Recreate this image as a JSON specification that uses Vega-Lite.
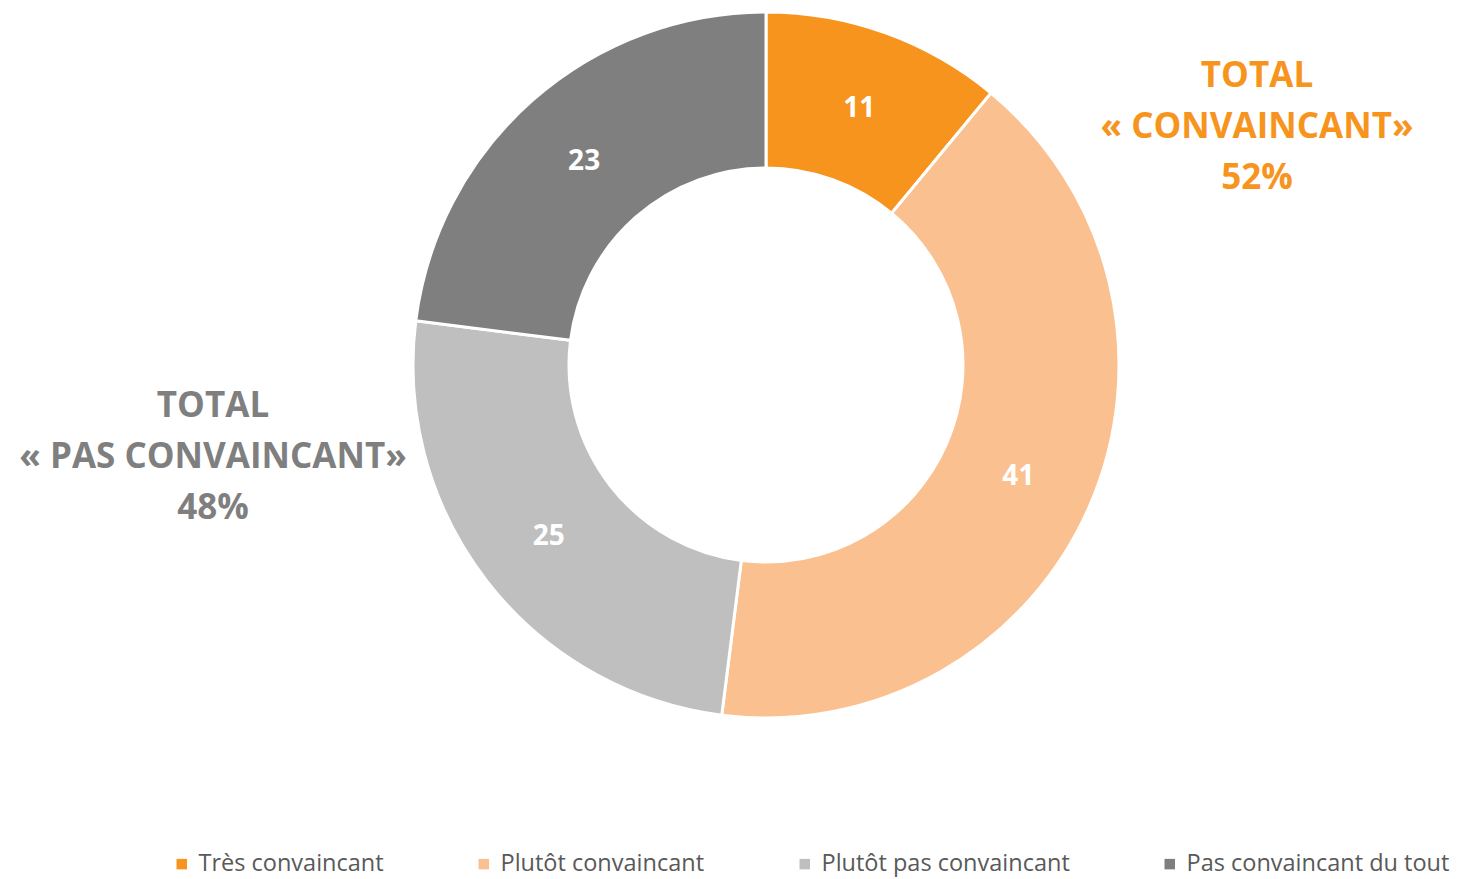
{
  "$schema": "https://vega.github.io/schema/vega-lite/v6.json",
  "autosize": {"type": "none"},
  "width": 1406,
  "height": 730,
  "padding": {"left": 63, "top": 0, "right": 0, "bottom": 149},
  "background": "white",
  "config": {"view": {"stroke": null}, "font": "Open Sans"},
  "datasets": {
    "slices": [
      {"categorie": "Très convaincant", "valeur": 11, "ordre": 1},
      {"categorie": "Plutôt convaincant", "valeur": 41, "ordre": 2},
      {"categorie": "Plutôt pas convaincant", "valeur": 25, "ordre": 3},
      {"categorie": "Pas convaincant du tout", "valeur": 23, "ordre": 4}
    ],
    "totals": [
      {"groupe": "convaincant", "lignes": ["TOTAL", "« CONVAINCANT»", "52%"]},
      {"groupe": "pas convaincant", "lignes": ["TOTAL", "« PAS CONVAINCANT»", "48%"]}
    ]
  },
  "layer": [
    {
      "data": {"name": "slices"},
      "mark": {"type": "arc", "outerRadius": 353, "innerRadius": 197, "stroke": "white", "strokeWidth": 3},
      "encoding": {
        "theta": {"field": "valeur", "type": "quantitative", "stack": true},
        "order": {"field": "ordre", "type": "quantitative"},
        "color": {
          "field": "categorie",
          "type": "nominal",
          "sort": ["Très convaincant", "Plutôt convaincant", "Plutôt pas convaincant", "Pas convaincant du tout"],
          "scale": {
            "domain": ["Très convaincant", "Plutôt convaincant", "Plutôt pas convaincant", "Pas convaincant du tout"],
            "range": ["#F7941D", "#FAC090", "#BFBFBF", "#7F7F7F"]
          },
          "legend": {
            "title": null,
            "orient": "none",
            "direction": "horizontal",
            "legendX": 107,
            "legendY": 852,
            "symbolType": "square",
            "symbolSize": 110,
            "symbolStrokeWidth": 0,
            "labelFont": "Open Sans",
            "labelFontSize": 23.5,
            "labelColor": "#595959",
            "labelLimit": 400,
            "labelOffset": 5,
            "columnPadding": 88
          }
        }
      }
    },
    {
      "data": {"name": "slices"},
      "mark": {"type": "text", "radius": 275, "dy": 3, "font": "Open Sans", "fontWeight": "bold", "fontSize": 28, "color": "white", "baseline": "middle", "align": "center"},
      "encoding": {
        "theta": {"field": "valeur", "type": "quantitative", "stack": true},
        "order": {"field": "ordre", "type": "quantitative"},
        "text": {"field": "valeur", "type": "quantitative"}
      }
    },
    {
      "data": {"name": "totals"},
      "transform": [{"filter": "datum.groupe === 'convaincant'"}],
      "mark": {"type": "text", "font": "Open Sans", "fontWeight": "bold", "fontSize": 35, "color": "#F7941D", "align": "center", "baseline": "middle", "lineHeight": 51, "dx": 491, "dy": -289},
      "encoding": {"text": {"field": "lignes"}}
    },
    {
      "data": {"name": "totals"},
      "transform": [{"filter": "datum.groupe === 'pas convaincant'"}],
      "mark": {"type": "text", "font": "Open Sans", "fontWeight": "bold", "fontSize": 35, "color": "#7F7F7F", "align": "center", "baseline": "middle", "lineHeight": 51, "dx": -553, "dy": 41},
      "encoding": {"text": {"field": "lignes"}}
    }
  ]
}
